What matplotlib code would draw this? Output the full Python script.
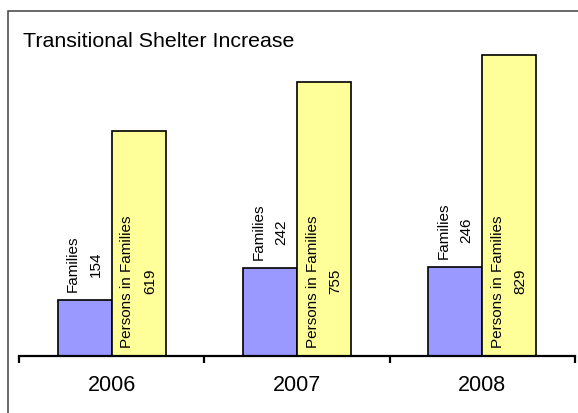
import matplotlib
matplotlib.use("Agg")
import matplotlib.pyplot as plt
from matplotlib.patches import Rectangle
import numpy as np

years = ["2006", "2007", "2008"]
families = [154, 242, 246]
persons = [619, 755, 829]
series_names = ["Families", "Persons in Families"]

W, H, DPI = 578, 413, 100
fig = plt.figure(figsize=(W / DPI, H / DPI), dpi=DPI)
plt.rcParams["font.family"] = ["Liberation Sans", "DejaVu Sans"]

# outer chart frame (only top and left edges fall inside the canvas)
fig.patches.append(Rectangle((8 / W, -0.1), 1.2, (H - 11) / H + 0.1,
                             transform=fig.transFigure, fill=False,
                             edgecolor="#404040", linewidth=1.1))

ymax = 900
px_per_unit = 0.3629
left_px, right_px, base_px = 19, 575, 356
ax_h_px = ymax * px_per_unit
ax = fig.add_axes([left_px / W, (H - base_px) / H,
                   (right_px - left_px) / W, ax_h_px / H])
ax.set_xlim(-0.5, 2.5)
ax.set_ylim(0, ymax)
ax.patch.set_alpha(0)

x = np.arange(len(years))
bw = 0.292
ax.bar(x - bw, families, width=bw, align="edge", color="#9999FF",
       edgecolor="black", linewidth=1.2, zorder=2)
ax.bar(x, persons, width=bw, align="edge", color="#FFFF99",
       edgecolor="black", linewidth=1.2, zorder=2)

gap = 8 / px_per_unit
for i in range(len(years)):
    ax.text(x[i] - bw / 2, families[i] + gap, f"{series_names[0]}\n{families[i]}",
            rotation=90, ha="center", va="bottom", multialignment="center",
            fontsize=11, linespacing=1.8, zorder=3)
    ax.text(x[i] + bw / 2, gap, f"{series_names[1]}\n{persons[i]}",
            rotation=90, ha="center", va="bottom", multialignment="center",
            fontsize=11, linespacing=1.8, zorder=3)

for s in ["top", "left", "right"]:
    ax.spines[s].set_visible(False)
ax.spines["bottom"].set_linewidth(1.6)
ax.set_yticks([])
ax.set_xticks(x)
ax.set_xticklabels(years, fontsize=15.5)
ax.tick_params(axis="x", which="major", length=0, pad=14)
ax.set_xticks([-0.5, 0.5, 1.5, 2.5], minor=True)
ax.tick_params(axis="x", which="minor", length=5, width=1.6, direction="out")

fig.text(23 / W, 1 - 47 / H, "Transitional Shelter Increase", fontsize=15.4,
         ha="left", va="baseline")

fig.savefig("out.png", dpi=DPI)
